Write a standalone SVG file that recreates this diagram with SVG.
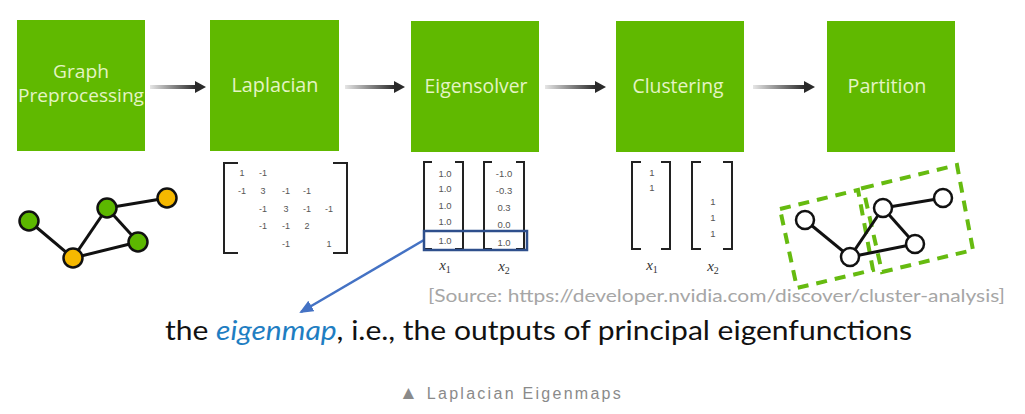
<svg xmlns="http://www.w3.org/2000/svg" width="1025" height="414" viewBox="0 0 1025 414">
<defs>
<style>
.box{fill:#60b900}
.bt{font-family:"Open Sans","DejaVu Sans",sans-serif;font-size:20px;fill:#e4f4c4;text-anchor:middle}
.bt2{font-size:17.5px}
.m{font-family:"Liberation Sans",Arial,sans-serif;font-size:9px;fill:#555;text-anchor:middle}
.v{font-family:"Liberation Sans",Arial,sans-serif;font-size:9.5px;fill:#555;text-anchor:middle}
.br{fill:none;stroke:#222;stroke-width:2}
.xl{font-family:"Liberation Serif","Times New Roman",serif;font-style:italic;font-size:15px;fill:#333;text-anchor:middle}
.sub{font-style:normal;font-size:10px}
.edge{stroke:#111;stroke-width:3}
.gn{fill:#5cb800;stroke:#111;stroke-width:2.5}
.on{fill:#f5b800;stroke:#111;stroke-width:2.5}
.wn{fill:#fff;stroke:#111;stroke-width:2.5}
.dash{fill:none;stroke:#66bb10;stroke-width:4;stroke-dasharray:11 8}
.ah{fill:#2a2a2a}
</style>
<linearGradient id="ag" x1="0" y1="0" x2="1" y2="0">
<stop offset="0" stop-color="#e6e6e6"/>
<stop offset="1" stop-color="#2a2a2a"/>
</linearGradient>
<marker id="bh" markerWidth="14" markerHeight="12" refX="12" refY="6" orient="auto" markerUnits="userSpaceOnUse">
<path d="M0,0 L14,6 L0,12 z" fill="#4472c4"/>
</marker>
</defs>
<rect width="1025" height="414" fill="#fff"/>

<g id="connectors">
<rect x="150" y="85" width="46" height="4" fill="url(#ag)"/>
<path class="ah" d="M195,81 L206,87 L195,93 z"/>
<rect x="345" y="85" width="50" height="4" fill="url(#ag)"/>
<path class="ah" d="M394,81 L405,87 L394,93 z"/>
<rect x="545" y="85" width="51" height="4" fill="url(#ag)"/>
<path class="ah" d="M595,81 L606,87 L595,93 z"/>
<rect x="753" y="85" width="52" height="4" fill="url(#ag)"/>
<path class="ah" d="M804,81 L815,87 L804,93 z"/>
<line x1="424" y1="240" x2="301" y2="312" stroke="#4472c4" stroke-width="2.5" marker-end="url(#bh)"/>
</g>

<g id="node-graph-preprocessing">
<rect class="box" x="17" y="20" width="128" height="131"/>
<text class="bt bt2" x="81" y="78" textLength="56" lengthAdjust="spacingAndGlyphs">Graph</text>
<text class="bt bt2" x="81" y="102" textLength="126" lengthAdjust="spacingAndGlyphs">Preprocessing</text>
</g>
<g id="node-laplacian">
<rect class="box" x="210" y="20" width="129" height="131"/>
<text class="bt" x="275" y="92" textLength="87" lengthAdjust="spacingAndGlyphs">Laplacian</text>
</g>
<g id="node-eigensolver">
<rect class="box" x="411" y="21" width="128" height="131"/>
<text class="bt" x="476" y="93" textLength="103" lengthAdjust="spacingAndGlyphs">Eigensolver</text>
</g>
<g id="node-clustering">
<rect class="box" x="616" y="21" width="128" height="131"/>
<text class="bt" x="678" y="93" textLength="91" lengthAdjust="spacingAndGlyphs">Clustering</text>
</g>
<g id="node-partition">
<rect class="box" x="827" y="21" width="128" height="131"/>
<text class="bt" x="887" y="93" textLength="79" lengthAdjust="spacingAndGlyphs">Partition</text>
</g>

<g id="input-graph">
<line class="edge" x1="29" y1="221" x2="73" y2="258"/>
<line class="edge" x1="73" y1="258" x2="107" y2="208"/>
<line class="edge" x1="107" y1="208" x2="167" y2="198"/>
<line class="edge" x1="107" y1="208" x2="138" y2="242"/>
<line class="edge" x1="73" y1="258" x2="138" y2="242"/>
<circle class="gn" cx="29" cy="221" r="9.5"/>
<circle class="gn" cx="107" cy="208" r="9.5"/>
<circle class="on" cx="167" cy="198" r="9.5"/>
<circle class="gn" cx="138" cy="242" r="9.5"/>
<circle class="on" cx="73" cy="258" r="9.5"/>
</g>

<g id="laplacian-matrix">
<path class="br" d="M238,163 H224 V253 H238"/>
<path class="br" d="M333,163 H347 V253 H333"/>
<text class="m" x="242" y="176">1</text><text class="m" x="263" y="176">-1</text>
<text class="m" x="242" y="194">-1</text><text class="m" x="263" y="194">3</text><text class="m" x="286" y="194">-1</text><text class="m" x="307" y="194">-1</text>
<text class="m" x="263" y="212">-1</text><text class="m" x="286" y="212">3</text><text class="m" x="307" y="212">-1</text><text class="m" x="329" y="212">-1</text>
<text class="m" x="263" y="229">-1</text><text class="m" x="286" y="229">-1</text><text class="m" x="307" y="229">2</text>
<text class="m" x="286" y="247">-1</text><text class="m" x="329" y="247">1</text>
</g>

<g id="eigen-vectors">
<path class="br" d="M432,162 H424 V249 H432"/>
<path class="br" d="M455,162 H463 V249 H455"/>
<path class="br" d="M492,162 H484 V249 H492"/>
<path class="br" d="M516,162 H524 V249 H516"/>
<text class="v" x="445" y="177">1.0</text>
<text class="v" x="445" y="192">1.0</text>
<text class="v" x="445" y="209">1.0</text>
<text class="v" x="445" y="225">1.0</text>
<text class="v" x="445" y="244">1.0</text>
<text class="v" x="504" y="177">-1.0</text>
<text class="v" x="504" y="194">-0.3</text>
<text class="v" x="504" y="211">0.3</text>
<text class="v" x="504" y="228">0.0</text>
<text class="v" x="504" y="246">1.0</text>
<rect x="424" y="231" width="103" height="19" fill="none" stroke="#2e4f8c" stroke-width="2.5"/>
<text class="xl" x="445" y="270">x<tspan class="sub" dy="3">1</tspan></text>
<text class="xl" x="504" y="271">x<tspan class="sub" dy="3">2</tspan></text>
</g>

<g id="cluster-vectors">
<path class="br" d="M641,162 H632 V249 H641"/>
<path class="br" d="M661,162 H670 V249 H661"/>
<path class="br" d="M701,162 H692 V249 H701"/>
<path class="br" d="M723,162 H732 V249 H723"/>
<text class="v" x="652" y="176">1</text>
<text class="v" x="652" y="191">1</text>
<text class="v" x="713" y="205">1</text>
<text class="v" x="713" y="221">1</text>
<text class="v" x="713" y="237">1</text>
<text class="xl" x="652" y="270">x<tspan class="sub" dy="3">1</tspan></text>
<text class="xl" x="713" y="271">x<tspan class="sub" dy="3">2</tspan></text>
</g>

<g id="partition-graph">
<polygon class="dash" points="780,209 858,190 873,270 797,288"/>
<polygon class="dash" points="863,188 957,165 973,250 882,272"/>
<line class="edge" x1="805" y1="220" x2="850" y2="257"/>
<line class="edge" x1="850" y1="257" x2="883" y2="208"/>
<line class="edge" x1="883" y1="208" x2="943" y2="198"/>
<line class="edge" x1="883" y1="208" x2="915" y2="244"/>
<line class="edge" x1="850" y1="257" x2="915" y2="244"/>
<circle class="wn" cx="805" cy="220" r="9"/>
<circle class="wn" cx="850" cy="257" r="9"/>
<circle class="wn" cx="883" cy="208" r="9"/>
<circle class="wn" cx="943" cy="198" r="9"/>
<circle class="wn" cx="915" cy="244" r="9"/>
</g>

<text x="428" y="302" font-family="Lato,'Open Sans',sans-serif" font-size="18" fill="#a6a6a6" textLength="577" lengthAdjust="spacingAndGlyphs">[Source: https://developer.nvidia.com/discover/cluster-analysis]</text>
<text x="165" y="340" font-family="Lato,'Open Sans',sans-serif" font-size="27" fill="#111" textLength="747" lengthAdjust="spacingAndGlyphs">the <tspan fill="#1f7ec2" font-style="italic">eigenmap</tspan>, i.e., the outputs of principal eigenfunctions</text>
<text x="399" y="399" font-family="'Liberation Sans','DejaVu Sans',Arial,sans-serif" font-size="16" fill="#8a8a8a" letter-spacing="1.2" textLength="223" lengthAdjust="spacing"><tspan font-size="19">▲</tspan> Laplacian Eigenmaps</text>
</svg>
